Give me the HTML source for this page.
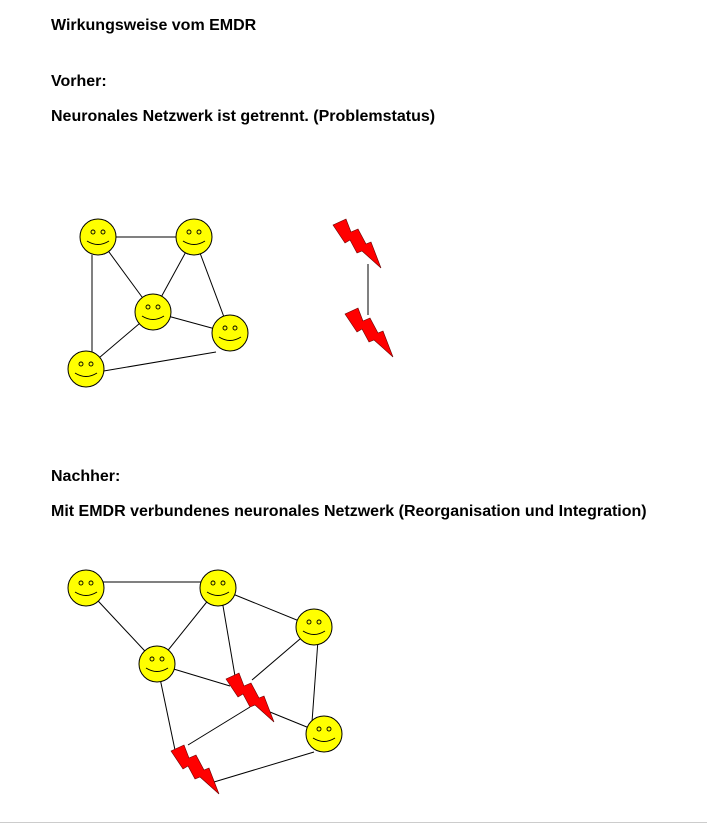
<!DOCTYPE html>
<html><head><meta charset="utf-8"><style>
body{margin:0;width:707px;height:826px;background:#fff;position:relative;overflow:hidden;font-family:"Liberation Sans",Arial,sans-serif}
.t{position:absolute;left:51px;font-weight:bold;font-size:16px;color:#000;white-space:nowrap}
</style></head><body>
<div class="t" style="top:17px">Wirkungsweise vom EMDR</div>
<div class="t" style="top:73px">Vorher:</div>
<div class="t" style="top:108px">Neuronales Netzwerk ist getrennt. (Problemstatus)</div>
<div class="t" style="top:468px">Nachher:</div>
<div class="t" style="top:503px">Mit EMDR verbundenes neuronales Netzwerk (Reorganisation und Integration)</div>
<svg width="707" height="826" style="position:absolute;left:0;top:0">
<defs>
<g id="s"><circle r="18" fill="#ffff00" stroke="#000" stroke-width="1"/><circle cx="-5" cy="-5" r="2" fill="none" stroke="#000" stroke-width="0.9"/><circle cx="5" cy="-5" r="2" fill="none" stroke="#000" stroke-width="0.9"/><path d="M-11,4 Q0,11 11,4" fill="none" stroke="#000" stroke-width="1"/></g>
<polygon id="b" points="0,6 13,0 18,13 25,10 33,25 38,23 48,49 29,32 24,34 17,21 12,24" fill="#f00" stroke="#600" stroke-width="0.6"/>
</defs>
<g stroke="#000" stroke-width="1">
<line x1="98" y1="237" x2="194" y2="237"/><line x1="98" y1="237" x2="153" y2="312"/><line x1="92" y1="255" x2="92" y2="352"/>
<line x1="194" y1="237" x2="153" y2="312"/><line x1="194" y1="237" x2="230" y2="333"/>
<line x1="153" y1="312" x2="230" y2="333"/><line x1="153" y1="312" x2="86" y2="369"/><line x1="86" y1="374" x2="216" y2="352"/>
<line x1="368" y1="264" x2="368" y2="315"/>
<line x1="86" y1="582" x2="218" y2="582"/><line x1="86" y1="588" x2="157" y2="664"/><line x1="218" y1="588" x2="157" y2="664"/>
<line x1="218" y1="588" x2="314" y2="627"/><line x1="222" y1="600" x2="235" y2="676"/><line x1="314" y1="627" x2="252" y2="680"/>
<line x1="318" y1="640" x2="312" y2="722"/><line x1="157" y1="664" x2="230" y2="686"/><line x1="265" y1="710" x2="324" y2="734"/>
<line x1="157" y1="664" x2="175" y2="750"/><line x1="250" y1="707" x2="188" y2="745"/><line x1="314" y1="752" x2="214" y2="782"/>
</g>
<use href="#s" x="98" y="237"/><use href="#s" x="194" y="237"/><use href="#s" x="153" y="312"/><use href="#s" x="230" y="333"/><use href="#s" x="86" y="369"/>
<use href="#b" x="333" y="219"/><use href="#b" x="345" y="308"/>
<use href="#s" x="86" y="588"/><use href="#s" x="218" y="588"/><use href="#s" x="314" y="627"/><use href="#s" x="157" y="664"/><use href="#s" x="324" y="734"/>
<use href="#b" x="226" y="673"/><use href="#b" x="171" y="745"/>
<line x1="0" y1="822.5" x2="707" y2="822.5" stroke="#ccc"/>
</svg>
</body></html>
